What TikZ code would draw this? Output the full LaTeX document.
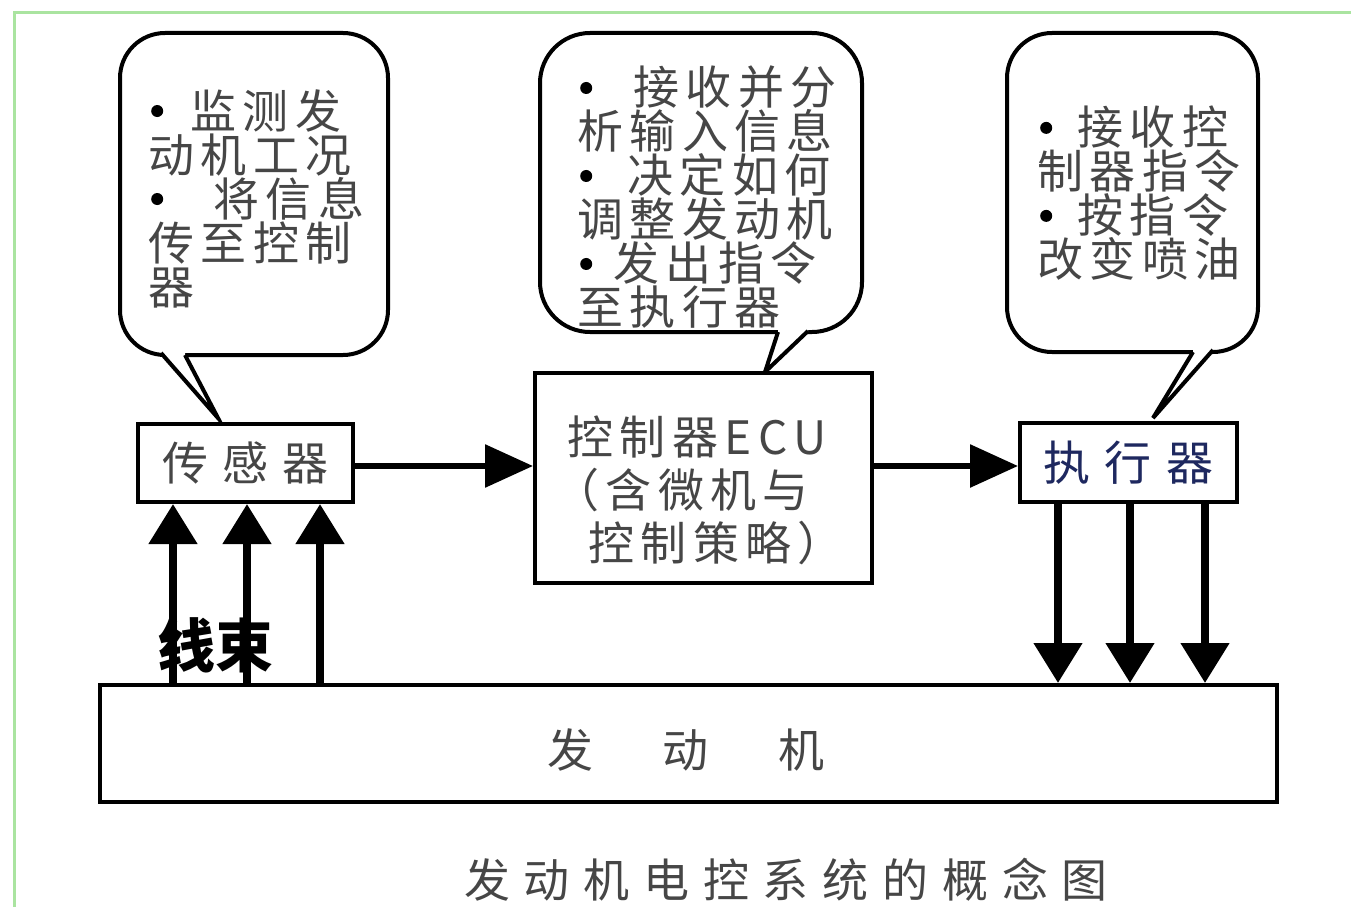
\documentclass[tikz,border=0pt]{standalone}
\usepackage{fontspec}
\newfontfamily\cjk[LetterSpace=14]{Noto Sans CJK SC}
\newfontfamily\cjkw[LetterSpace=30]{Noto Sans CJK SC}
\newfontfamily\cjkn{Noto Sans CJK SC}
\usetikzlibrary{arrows.meta}
\definecolor{txtgray}{RGB}{70,70,70}
\definecolor{framegreen}{RGB}{170,228,160}
\definecolor{actblue}{RGB}{30,40,95}
\newcommand\bu[1]{\makebox[#1pt][l]{\hspace*{3pt}\raisebox{11pt}{\tikz\fill[black] (0pt,0pt) circle[radius=6pt];}}}
\begin{document}
\begin{tikzpicture}[x=1pt,y=-1pt,
  box/.style={draw, line width=4pt, fill=white, inner sep=0pt},
  bubble/.style={draw, line width=4pt, fill=white, rounded corners=#1},
  tail/.style={line width=4pt, line join=miter},
  ctext/.style={align=left, inner sep=0pt, anchor=north west, text=txtgray,
     font=\cjk\fontsize{46}{44}\selectfont},
  harrow/.style={line width=6pt, -{Triangle[length=48pt,width=42pt]}},
  varrow/.style={line width=8pt, -{Triangle[length=40pt,width=47pt]}}
]
\useasboundingbox (0,0) rectangle (1351,907);
\fill[white] (0,0) rectangle (1351,907);
\draw[framegreen, line width=3pt] (14,907) -- (14,13) -- (1351,13);

% callout 1
\draw[bubble=45pt] (120,33) rectangle (388,355);
\fill[white] (161,349) -- (185,349) -- (185,355) -- (218,418) -- (161,355) -- cycle;
\draw[tail] (161,353) -- (218,418) -- (185,355);
% callout 2
\draw[bubble=50pt] (540,33) rectangle (862,332);
\fill[white] (778,326) -- (808,326) -- (808,332) -- (765,372) -- (778,332) -- cycle;
\draw[tail] (778,332) -- (765,372) -- (808,331);
% callout 3
\draw[bubble=45pt] (1007,33) rectangle (1258,352);
\fill[white] (1193,346) -- (1213,346) -- (1213,351) -- (1153,418) -- (1193,352) -- cycle;
\draw[tail] (1193,352) -- (1153,418) -- (1213,350);

\node[ctext] (t1) at (148,89) {\bu{42}监测发\\动机工况\\\bu{65}将信息\\传至控制\\器};
\node[ctext] (t2) at (577,66) {\bu{56}接收并分\\析输入信息\\\bu{50}决定如何\\调整发动机\\\bu{36}发出指令\\至执行器};
\node[ctext] (t3) at (1037,106) {\bu{40}接收控\\制器指令\\\bu{40}按指令\\改变喷油};

% boxes
\node[box, minimum width=215pt, minimum height=78pt, text=txtgray,
      font=\cjkw\fontsize{46}{46}\selectfont] (sensor) at (245.5,463) {传感器};
\node[box, minimum width=217pt, minimum height=79pt, text=actblue,
      font=\cjkw\fontsize{47}{47}\selectfont] (act) at (1128.5,462.5) {执行器};
\node[box, minimum width=337pt, minimum height=210pt] (ecu) at (703.5,478) {};
\node[align=left, inner sep=0pt, anchor=north west, text=txtgray,
      font=\cjk\fontsize{46}{53}\selectfont] (ecutext) at (567,416)
      {控制器ECU\\\hspace*{-14pt}（含微机与\\\hspace*{21pt}控制策略）};
\node[box, minimum width=1177pt, minimum height=117pt] (engine) at (688.5,743.5) {};
\node[inner sep=0pt, text=txtgray, font=\cjkn\fontsize{46}{46}\selectfont] (enginetext) at (686,750)
  {发\hspace{70pt}动\hspace{70pt}机};

% horizontal arrows
\draw[harrow] (sensor.east |- 0,466) -- (ecu.west |- 0,466);
\draw[harrow] (ecu.east |- 0,466) -- (act.west |- 0,466);

% vertical arrows
\coordinate (s1) at (173,0);
\coordinate (s2) at (247,0);
\coordinate (s3) at (320,0);
\coordinate (a1) at (1058,0);
\coordinate (a2) at (1130,0);
\coordinate (a3) at (1205,0);
\foreach \c in {s1,s2,s3}
  \draw[varrow] (engine.north -| \c) -- (sensor.south -| \c);
\foreach \c in {a1,a2,a3}
  \draw[varrow] (act.south -| \c) -- (engine.north -| \c);

\node[inner sep=0pt, font=\cjkn\bfseries\fontsize{58}{58}\selectfont] (harness) at (215,645) {线束};

\node[inner sep=0pt, text=txtgray, font=\cjkw\fontsize{46}{46}\selectfont] (caption) at (786,880)
  {发动机电控系统的概念图};
\end{tikzpicture}
\end{document}
